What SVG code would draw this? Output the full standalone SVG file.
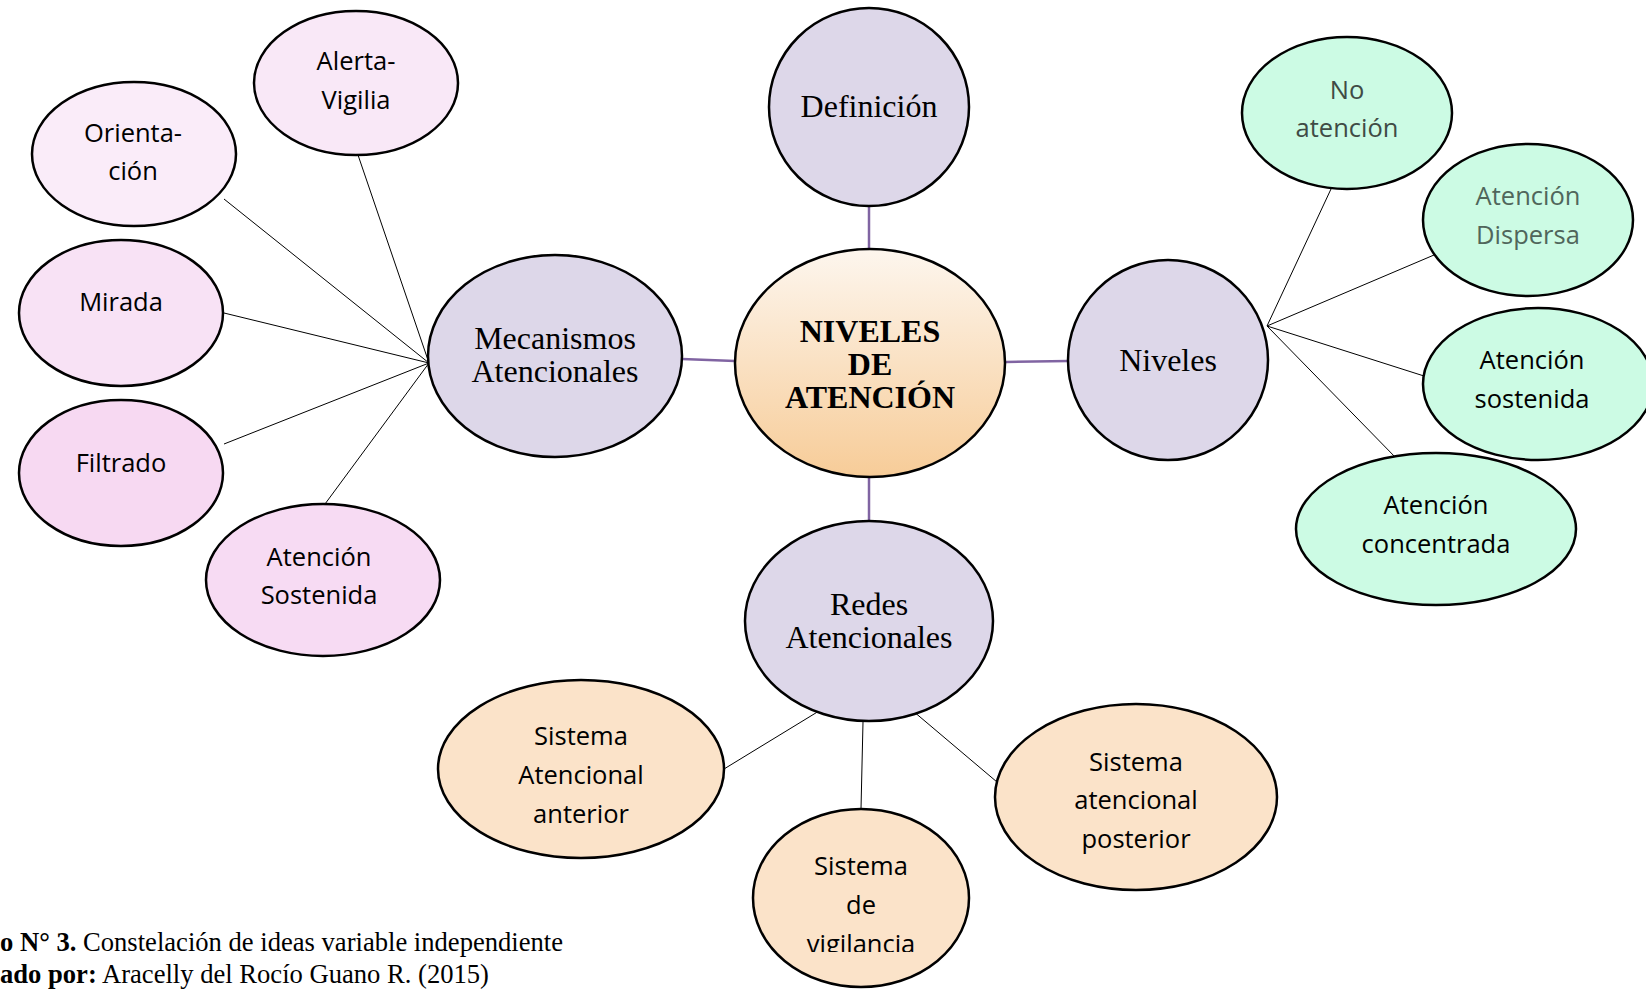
<svg xmlns="http://www.w3.org/2000/svg" width="1646" height="989" viewBox="0 0 1646 989">
<defs>
<linearGradient id="gc" x1="0" y1="0" x2="0" y2="1">
<stop offset="0" stop-color="#fdf6ee"/>
<stop offset="1" stop-color="#f7cc98"/>
</linearGradient>
<clipPath id="clipv"><rect x="700" y="800" width="330" height="152"/></clipPath>
<style>
.n{stroke:#000;stroke-width:2.5}
.lav{fill:#ddd7e9}
.gr{fill:#ccfbe4}
.pe{fill:#fbe3c9}
.ser{font-family:"Liberation Serif","Times New Roman",serif;font-size:32px;fill:#000;text-anchor:middle}
.bold{font-weight:bold;font-size:32px}
.sans{font-family:"Open Sans","Noto Sans",sans-serif;font-size:25.5px;fill:#000;text-anchor:middle}
.gray{fill:#3f4b45}
.gray2{fill:#50665b}
.pl{stroke:#8064a2;stroke-width:2.5;fill:none}
.bl{stroke:#000;stroke-width:1;fill:none}
.cap{font-family:"Liberation Serif","Times New Roman",serif;font-size:26.6px;fill:#000}
</style>
</defs>
<rect width="1646" height="989" fill="#fff"/>
<g id="connectors">
<line class="pl" x1="869" y1="207" x2="869" y2="250"/>
<line class="pl" x1="682" y1="359" x2="735" y2="361"/>
<line class="pl" x1="1006" y1="362" x2="1069" y2="361"/>
<line class="pl" x1="869" y1="477" x2="869" y2="522"/>
<line class="bl" x1="429" y1="363" x2="358" y2="155"/>
<line class="bl" x1="429" y1="363" x2="224" y2="199"/>
<line class="bl" x1="429" y1="363" x2="224" y2="313"/>
<line class="bl" x1="429" y1="363" x2="224" y2="444"/>
<line class="bl" x1="429" y1="363" x2="325" y2="504"/>
<line class="bl" x1="1267" y1="326" x2="1331" y2="189"/>
<line class="bl" x1="1267" y1="326" x2="1434" y2="255"/>
<line class="bl" x1="1267" y1="326" x2="1424" y2="376"/>
<line class="bl" x1="1267" y1="326" x2="1397" y2="459"/>
<line class="bl" x1="819" y1="711" x2="724" y2="769"/>
<line class="bl" x1="863" y1="722" x2="861" y2="809"/>
<line class="bl" x1="913" y1="711" x2="997" y2="782"/>
</g>
<g id="definicion">
<ellipse class="n lav" cx="869" cy="107" rx="100" ry="99"/>
<text class="ser" x="869" y="117">Definición</text>
</g>
<g id="central">
<ellipse class="n" fill="url(#gc)" cx="870" cy="363" rx="135" ry="114"/>
<text class="ser bold" x="870" y="342">NIVELES</text>
<text class="ser bold" x="870" y="375">DE</text>
<text class="ser bold" x="870" y="408">ATENCIÓN</text>
</g>
<g id="mecanismos">
<ellipse class="n lav" cx="555" cy="356" rx="127" ry="101"/>
<text class="ser" x="555" y="349">Mecanismos</text>
<text class="ser" x="555" y="382">Atencionales</text>
</g>
<g id="niveles">
<ellipse class="n lav" cx="1168" cy="360" rx="100" ry="100"/>
<text class="ser" x="1168" y="371">Niveles</text>
</g>
<g id="redes">
<ellipse class="n lav" cx="869" cy="621" rx="124" ry="100"/>
<text class="ser" x="869" y="615">Redes</text>
<text class="ser" x="869" y="648">Atencionales</text>
</g>
<g id="alerta">
<ellipse class="n" fill="#f9e8f7" cx="356" cy="83" rx="102" ry="72"/>
<text class="sans" x="356" y="70">Alerta-</text>
<text class="sans" x="356" y="109">Vigilia</text>
</g>
<g id="orientacion">
<ellipse class="n" fill="#faecf9" cx="134" cy="154" rx="102" ry="72"/>
<text class="sans" x="133" y="142">Orienta-</text>
<text class="sans" x="133" y="180">ción</text>
</g>
<g id="mirada">
<ellipse class="n" fill="#f8e2f5" cx="121" cy="313" rx="102" ry="73"/>
<text class="sans" x="121" y="311">Mirada</text>
</g>
<g id="filtrado">
<ellipse class="n" fill="#f7d9f2" cx="121" cy="473" rx="102" ry="73"/>
<text class="sans" x="121" y="472">Filtrado</text>
</g>
<g id="atencion-sostenida-m">
<ellipse class="n" fill="#f7dbf3" cx="323" cy="580" rx="117" ry="76"/>
<text class="sans" x="319" y="566">Atención</text>
<text class="sans" x="319" y="604">Sostenida</text>
</g>
<g id="no-atencion">
<ellipse class="n gr" cx="1347" cy="113" rx="105" ry="76"/>
<text class="sans gray" x="1347" y="99">No</text>
<text class="sans gray" x="1347" y="137">atención</text>
</g>
<g id="dispersa">
<ellipse class="n gr" cx="1528" cy="220" rx="105" ry="76"/>
<text class="sans gray2" x="1528" y="205">Atención</text>
<text class="sans gray2" x="1528" y="244">Dispersa</text>
</g>
<g id="sostenida-n">
<ellipse class="n gr" cx="1538" cy="384" rx="115" ry="76"/>
<text class="sans" x="1532" y="369">Atención</text>
<text class="sans" x="1532" y="408">sostenida</text>
</g>
<g id="concentrada">
<ellipse class="n gr" cx="1436" cy="529" rx="140" ry="76"/>
<text class="sans" x="1436" y="514">Atención</text>
<text class="sans" x="1436" y="553">concentrada</text>
</g>
<g id="anterior">
<ellipse class="n pe" cx="581" cy="769" rx="143" ry="89"/>
<text class="sans" x="581" y="745">Sistema</text>
<text class="sans" x="581" y="784">Atencional</text>
<text class="sans" x="581" y="823">anterior</text>
</g>
<g id="vigilancia">
<ellipse class="n pe" cx="861" cy="898" rx="108" ry="89"/>
<g clip-path="url(#clipv)">
<text class="sans" x="861" y="875">Sistema</text>
<text class="sans" x="861" y="914">de</text>
<text class="sans" x="861" y="953">vigilancia</text>
</g>
</g>
<g id="posterior">
<ellipse class="n pe" cx="1136" cy="797" rx="141" ry="93"/>
<text class="sans" x="1136" y="771">Sistema</text>
<text class="sans" x="1136" y="809">atencional</text>
<text class="sans" x="1136" y="848">posterior</text>
</g>
<g id="caption">
<text class="cap" x="0" y="951"><tspan font-weight="bold">o N° 3.</tspan> Constelación de ideas variable independiente</text>
<text class="cap" x="0" y="983"><tspan font-weight="bold">ado por:</tspan> Aracelly del Rocío Guano R. (2015)</text>
</g>
</svg>
